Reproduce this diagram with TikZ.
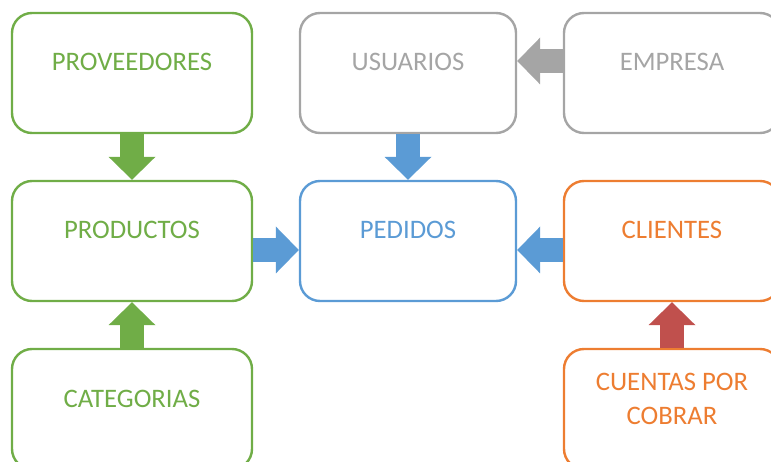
\documentclass[tikz,border=0pt]{standalone}
\usepackage{fontspec}
\setmainfont{Carlito}
\usetikzlibrary{arrows.meta}

\definecolor{ofgreen}{HTML}{70AD47}
\definecolor{ofgray}{HTML}{A5A5A5}
\definecolor{ofblue}{HTML}{5B9BD5}
\definecolor{oforange}{HTML}{ED7D31}
\definecolor{ofred}{HTML}{C0504D}

\begin{document}
\begin{tikzpicture}[x=1pt, y=-1pt]


\tikzstyle{box_style} = [draw, rounded corners=20, line width=2.4, minimum height=120, inner sep=0pt]

\tikzstyle{text_style} = [inner sep=0pt, align=center, font=\fontsize{26.7}{34.5}\selectfont]

\tikzstyle{arrow_style} = [line width=24, -{Triangle[width=47pt, length=23pt, line width=0pt]}]


\useasboundingbox (0,0) rectangle (771,462);
\clip (0,0) rectangle (771,462);

\node[box_style, draw=ofgreen, minimum width=240] (proveedores) at (132, 73) {};
\node[box_style, draw=ofgray, minimum width=216] (usuarios) at (408, 73) {};
\node[box_style, draw=ofgray, minimum width=216] (empresa) at (672, 73) {};
\node[box_style, draw=ofgreen, minimum width=240] (productos) at (132, 241) {};
\node[box_style, draw=ofblue, minimum width=216] (pedidos) at (408, 241) {};
\node[box_style, draw=oforange, minimum width=216] (clientes) at (672, 241) {};
\node[box_style, draw=ofgreen, minimum width=240] (categorias) at (132, 409) {};
\node[box_style, draw=oforange, minimum width=216] (cuentas) at (672, 409) {};

\node[text_style, text=ofgreen] (proveedores_txt) at (132, 61.5) {PROVEEDORES};
\node[text_style, text=ofgray] (usuarios_txt) at (408, 61.5) {USUARIOS};
\node[text_style, text=ofgray] (empresa_txt) at (672, 61.5) {EMPRESA};
\node[text_style, text=ofgreen] (productos_txt) at (132, 229.5) {PRODUCTOS};
\node[text_style, text=ofblue] (pedidos_txt) at (408, 229.5) {PEDIDOS};
\node[text_style, text=oforange] (clientes_txt) at (672, 229.5) {CLIENTES};
\node[text_style, text=ofgreen] (categorias_txt) at (132, 398.5) {CATEGORIAS};
\node[text_style, text=oforange] (cuentas_txt) at (672, 399) {CUENTAS POR\\COBRAR};


\draw[arrow_style, color=ofgreen]  (proveedores.south) -- (productos.north);
\draw[arrow_style, color=ofgreen]  (categorias.north) -- (productos.south);
\draw[arrow_style, color=ofblue]  (usuarios.south) -- (pedidos.north);
\draw[arrow_style, color=ofgray]  ([yshift=12pt]empresa.west) -- ([yshift=12pt]usuarios.east);
\draw[arrow_style, color=ofblue]  ([yshift=-9pt]productos.east) -- ([yshift=-9pt]pedidos.west);
\draw[arrow_style, color=ofblue]  ([yshift=-9pt]clientes.west) -- ([yshift=-9pt]pedidos.east);
\draw[arrow_style, color=ofred]  (cuentas.north) -- (clientes.south);


\end{tikzpicture}
\end{document}
